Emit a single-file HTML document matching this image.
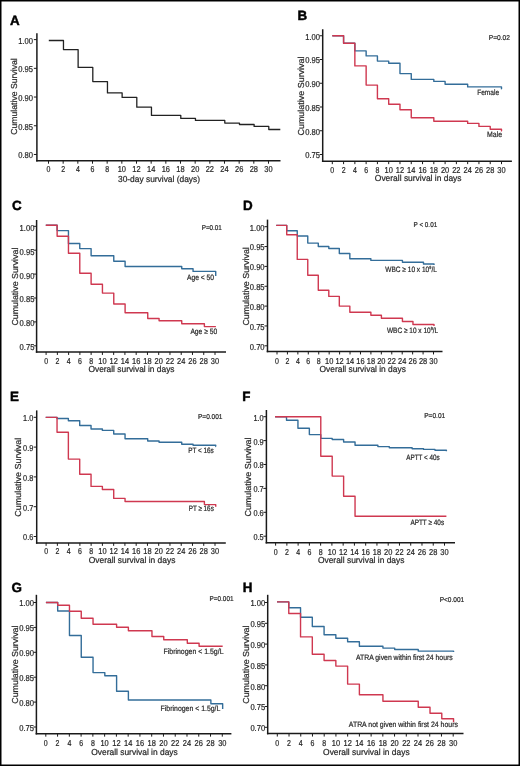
<!DOCTYPE html>
<html><head><meta charset="utf-8"><style>
html,body{margin:0;padding:0;background:#fff;}
svg{display:block;}
text{font-family:"Liberation Sans", sans-serif;stroke:#333;stroke-width:0.22px;}
</style></head><body>
<div style="will-change:transform;width:520px;height:766px"><svg width="520" height="766" viewBox="0 0 520 766" text-rendering="geometricPrecision">
<rect x="0" y="0" width="520" height="766" fill="#fff"/>
<text x="10" y="24.5" font-weight="bold" font-size="13.4" fill="#000" style="stroke:#000;stroke-width:0.45px">A</text>
<line x1="36.9" y1="33.3" x2="36.9" y2="161.5" stroke="#1a1a1a" stroke-width="1.5"/>
<line x1="36.15" y1="160.75" x2="280.5" y2="160.75" stroke="#1a1a1a" stroke-width="1.5"/>
<line x1="33.85" y1="39.6" x2="36.9" y2="39.6" stroke="#1a1a1a" stroke-width="1"/>
<text x="33" y="43.5" font-size="8.6" text-anchor="end" textLength="14.8" lengthAdjust="spacingAndGlyphs" fill="#222">1.00</text>
<line x1="33.85" y1="68.32" x2="36.9" y2="68.32" stroke="#1a1a1a" stroke-width="1"/>
<text x="33" y="72.22" font-size="8.6" text-anchor="end" textLength="14.8" lengthAdjust="spacingAndGlyphs" fill="#222">0.95</text>
<line x1="33.85" y1="97.04" x2="36.9" y2="97.04" stroke="#1a1a1a" stroke-width="1"/>
<text x="33" y="100.94" font-size="8.6" text-anchor="end" textLength="14.8" lengthAdjust="spacingAndGlyphs" fill="#222">0.90</text>
<line x1="33.85" y1="125.76" x2="36.9" y2="125.76" stroke="#1a1a1a" stroke-width="1"/>
<text x="33" y="129.66" font-size="8.6" text-anchor="end" textLength="14.8" lengthAdjust="spacingAndGlyphs" fill="#222">0.85</text>
<line x1="33.85" y1="154.48" x2="36.9" y2="154.48" stroke="#1a1a1a" stroke-width="1"/>
<text x="33" y="158.38" font-size="8.6" text-anchor="end" textLength="14.8" lengthAdjust="spacingAndGlyphs" fill="#222">0.80</text>
<line x1="48.5" y1="160.75" x2="48.5" y2="163.7" stroke="#1a1a1a" stroke-width="1"/>
<text x="48.5" y="172" font-size="8.6" text-anchor="middle" textLength="3.9" lengthAdjust="spacingAndGlyphs" fill="#222">0</text>
<line x1="63.17" y1="160.75" x2="63.17" y2="163.7" stroke="#1a1a1a" stroke-width="1"/>
<text x="63.17" y="172" font-size="8.6" text-anchor="middle" textLength="3.9" lengthAdjust="spacingAndGlyphs" fill="#222">2</text>
<line x1="77.83" y1="160.75" x2="77.83" y2="163.7" stroke="#1a1a1a" stroke-width="1"/>
<text x="77.83" y="172" font-size="8.6" text-anchor="middle" textLength="3.9" lengthAdjust="spacingAndGlyphs" fill="#222">4</text>
<line x1="92.5" y1="160.75" x2="92.5" y2="163.7" stroke="#1a1a1a" stroke-width="1"/>
<text x="92.5" y="172" font-size="8.6" text-anchor="middle" textLength="3.9" lengthAdjust="spacingAndGlyphs" fill="#222">6</text>
<line x1="107.16" y1="160.75" x2="107.16" y2="163.7" stroke="#1a1a1a" stroke-width="1"/>
<text x="107.16" y="172" font-size="8.6" text-anchor="middle" textLength="3.9" lengthAdjust="spacingAndGlyphs" fill="#222">8</text>
<line x1="121.83" y1="160.75" x2="121.83" y2="163.7" stroke="#1a1a1a" stroke-width="1"/>
<text x="121.83" y="172" font-size="8.6" text-anchor="middle" textLength="8.3" lengthAdjust="spacingAndGlyphs" fill="#222">10</text>
<line x1="136.5" y1="160.75" x2="136.5" y2="163.7" stroke="#1a1a1a" stroke-width="1"/>
<text x="136.5" y="172" font-size="8.6" text-anchor="middle" textLength="8.3" lengthAdjust="spacingAndGlyphs" fill="#222">12</text>
<line x1="151.16" y1="160.75" x2="151.16" y2="163.7" stroke="#1a1a1a" stroke-width="1"/>
<text x="151.16" y="172" font-size="8.6" text-anchor="middle" textLength="8.3" lengthAdjust="spacingAndGlyphs" fill="#222">14</text>
<line x1="165.83" y1="160.75" x2="165.83" y2="163.7" stroke="#1a1a1a" stroke-width="1"/>
<text x="165.83" y="172" font-size="8.6" text-anchor="middle" textLength="8.3" lengthAdjust="spacingAndGlyphs" fill="#222">16</text>
<line x1="180.49" y1="160.75" x2="180.49" y2="163.7" stroke="#1a1a1a" stroke-width="1"/>
<text x="180.49" y="172" font-size="8.6" text-anchor="middle" textLength="8.3" lengthAdjust="spacingAndGlyphs" fill="#222">18</text>
<line x1="195.16" y1="160.75" x2="195.16" y2="163.7" stroke="#1a1a1a" stroke-width="1"/>
<text x="195.16" y="172" font-size="8.6" text-anchor="middle" textLength="8.3" lengthAdjust="spacingAndGlyphs" fill="#222">20</text>
<line x1="209.83" y1="160.75" x2="209.83" y2="163.7" stroke="#1a1a1a" stroke-width="1"/>
<text x="209.83" y="172" font-size="8.6" text-anchor="middle" textLength="8.3" lengthAdjust="spacingAndGlyphs" fill="#222">22</text>
<line x1="224.49" y1="160.75" x2="224.49" y2="163.7" stroke="#1a1a1a" stroke-width="1"/>
<text x="224.49" y="172" font-size="8.6" text-anchor="middle" textLength="8.3" lengthAdjust="spacingAndGlyphs" fill="#222">24</text>
<line x1="239.16" y1="160.75" x2="239.16" y2="163.7" stroke="#1a1a1a" stroke-width="1"/>
<text x="239.16" y="172" font-size="8.6" text-anchor="middle" textLength="8.3" lengthAdjust="spacingAndGlyphs" fill="#222">26</text>
<line x1="253.82" y1="160.75" x2="253.82" y2="163.7" stroke="#1a1a1a" stroke-width="1"/>
<text x="253.82" y="172" font-size="8.6" text-anchor="middle" textLength="8.3" lengthAdjust="spacingAndGlyphs" fill="#222">28</text>
<line x1="268.49" y1="160.75" x2="268.49" y2="163.7" stroke="#1a1a1a" stroke-width="1"/>
<text x="268.49" y="172" font-size="8.6" text-anchor="middle" textLength="8.3" lengthAdjust="spacingAndGlyphs" fill="#222">30</text>
<text x="159" y="181.9" font-size="8.7" text-anchor="middle" textLength="82" lengthAdjust="spacingAndGlyphs" fill="#222">30-day survival (days)</text>
<text transform="translate(16.7 96.5) rotate(-90)" x="0" y="0" font-size="8.7" text-anchor="middle" textLength="76.6" lengthAdjust="spacingAndGlyphs" fill="#222">Cumulative Survival</text>
<path d="M48.8 40.5 L63.47 40.5 L63.47 49.6 L78.13 49.6 L78.13 67.4 L92.8 67.4 L92.8 81.6 L107.46 81.6 L107.46 92.9 L122.13 92.9 L122.13 97.4 L136.8 97.4 L136.8 107.2 L151.46 107.2 L151.46 115.4 L166.13 115.4 L166.13 115.4 L180.79 115.4 L180.79 118.4 L195.46 118.4 L195.46 120.4 L210.13 120.4 L210.13 120.4 L224.79 120.4 L224.79 123.1 L239.46 123.1 L239.46 124.5 L254.12 124.5 L254.12 126.4 L268.79 126.4 L268.79 129.5 L280.3 129.5" fill="none" stroke="#222" stroke-width="1.3" stroke-linejoin="round"/>
<text x="297.5" y="19.5" font-weight="bold" font-size="13.4" fill="#000" style="stroke:#000;stroke-width:0.45px">B</text>
<line x1="322.7" y1="29.25" x2="322.7" y2="161.95" stroke="#1a1a1a" stroke-width="1.5"/>
<line x1="321.95" y1="161.2" x2="511.9" y2="161.2" stroke="#1a1a1a" stroke-width="1.5"/>
<line x1="319.65" y1="35.75" x2="322.7" y2="35.75" stroke="#1a1a1a" stroke-width="1"/>
<text x="320" y="39.65" font-size="8.6" text-anchor="end" textLength="14.8" lengthAdjust="spacingAndGlyphs" fill="#222">1.00</text>
<line x1="319.65" y1="59.5" x2="322.7" y2="59.5" stroke="#1a1a1a" stroke-width="1"/>
<text x="320" y="63.4" font-size="8.6" text-anchor="end" textLength="14.8" lengthAdjust="spacingAndGlyphs" fill="#222">0.95</text>
<line x1="319.65" y1="83.25" x2="322.7" y2="83.25" stroke="#1a1a1a" stroke-width="1"/>
<text x="320" y="87.15" font-size="8.6" text-anchor="end" textLength="14.8" lengthAdjust="spacingAndGlyphs" fill="#222">0.90</text>
<line x1="319.65" y1="107" x2="322.7" y2="107" stroke="#1a1a1a" stroke-width="1"/>
<text x="320" y="110.9" font-size="8.6" text-anchor="end" textLength="14.8" lengthAdjust="spacingAndGlyphs" fill="#222">0.85</text>
<line x1="319.65" y1="130.75" x2="322.7" y2="130.75" stroke="#1a1a1a" stroke-width="1"/>
<text x="320" y="134.65" font-size="8.6" text-anchor="end" textLength="14.8" lengthAdjust="spacingAndGlyphs" fill="#222">0.80</text>
<line x1="319.65" y1="154.5" x2="322.7" y2="154.5" stroke="#1a1a1a" stroke-width="1"/>
<text x="320" y="158.4" font-size="8.6" text-anchor="end" textLength="14.8" lengthAdjust="spacingAndGlyphs" fill="#222">0.75</text>
<line x1="332.3" y1="161.2" x2="332.3" y2="164.15" stroke="#1a1a1a" stroke-width="1"/>
<text x="332.3" y="172.9" font-size="8.6" text-anchor="middle" textLength="3.9" lengthAdjust="spacingAndGlyphs" fill="#222">0</text>
<line x1="343.58" y1="161.2" x2="343.58" y2="164.15" stroke="#1a1a1a" stroke-width="1"/>
<text x="343.58" y="172.9" font-size="8.6" text-anchor="middle" textLength="3.9" lengthAdjust="spacingAndGlyphs" fill="#222">2</text>
<line x1="354.86" y1="161.2" x2="354.86" y2="164.15" stroke="#1a1a1a" stroke-width="1"/>
<text x="354.86" y="172.9" font-size="8.6" text-anchor="middle" textLength="3.9" lengthAdjust="spacingAndGlyphs" fill="#222">4</text>
<line x1="366.14" y1="161.2" x2="366.14" y2="164.15" stroke="#1a1a1a" stroke-width="1"/>
<text x="366.14" y="172.9" font-size="8.6" text-anchor="middle" textLength="3.9" lengthAdjust="spacingAndGlyphs" fill="#222">6</text>
<line x1="377.42" y1="161.2" x2="377.42" y2="164.15" stroke="#1a1a1a" stroke-width="1"/>
<text x="377.42" y="172.9" font-size="8.6" text-anchor="middle" textLength="3.9" lengthAdjust="spacingAndGlyphs" fill="#222">8</text>
<line x1="388.7" y1="161.2" x2="388.7" y2="164.15" stroke="#1a1a1a" stroke-width="1"/>
<text x="388.7" y="172.9" font-size="8.6" text-anchor="middle" textLength="8.3" lengthAdjust="spacingAndGlyphs" fill="#222">10</text>
<line x1="399.98" y1="161.2" x2="399.98" y2="164.15" stroke="#1a1a1a" stroke-width="1"/>
<text x="399.98" y="172.9" font-size="8.6" text-anchor="middle" textLength="8.3" lengthAdjust="spacingAndGlyphs" fill="#222">12</text>
<line x1="411.26" y1="161.2" x2="411.26" y2="164.15" stroke="#1a1a1a" stroke-width="1"/>
<text x="411.26" y="172.9" font-size="8.6" text-anchor="middle" textLength="8.3" lengthAdjust="spacingAndGlyphs" fill="#222">14</text>
<line x1="422.54" y1="161.2" x2="422.54" y2="164.15" stroke="#1a1a1a" stroke-width="1"/>
<text x="422.54" y="172.9" font-size="8.6" text-anchor="middle" textLength="8.3" lengthAdjust="spacingAndGlyphs" fill="#222">16</text>
<line x1="433.82" y1="161.2" x2="433.82" y2="164.15" stroke="#1a1a1a" stroke-width="1"/>
<text x="433.82" y="172.9" font-size="8.6" text-anchor="middle" textLength="8.3" lengthAdjust="spacingAndGlyphs" fill="#222">18</text>
<line x1="445.1" y1="161.2" x2="445.1" y2="164.15" stroke="#1a1a1a" stroke-width="1"/>
<text x="445.1" y="172.9" font-size="8.6" text-anchor="middle" textLength="8.3" lengthAdjust="spacingAndGlyphs" fill="#222">20</text>
<line x1="456.38" y1="161.2" x2="456.38" y2="164.15" stroke="#1a1a1a" stroke-width="1"/>
<text x="456.38" y="172.9" font-size="8.6" text-anchor="middle" textLength="8.3" lengthAdjust="spacingAndGlyphs" fill="#222">22</text>
<line x1="467.66" y1="161.2" x2="467.66" y2="164.15" stroke="#1a1a1a" stroke-width="1"/>
<text x="467.66" y="172.9" font-size="8.6" text-anchor="middle" textLength="8.3" lengthAdjust="spacingAndGlyphs" fill="#222">24</text>
<line x1="478.94" y1="161.2" x2="478.94" y2="164.15" stroke="#1a1a1a" stroke-width="1"/>
<text x="478.94" y="172.9" font-size="8.6" text-anchor="middle" textLength="8.3" lengthAdjust="spacingAndGlyphs" fill="#222">26</text>
<line x1="490.22" y1="161.2" x2="490.22" y2="164.15" stroke="#1a1a1a" stroke-width="1"/>
<text x="490.22" y="172.9" font-size="8.6" text-anchor="middle" textLength="8.3" lengthAdjust="spacingAndGlyphs" fill="#222">28</text>
<line x1="501.5" y1="161.2" x2="501.5" y2="164.15" stroke="#1a1a1a" stroke-width="1"/>
<text x="501.5" y="172.9" font-size="8.6" text-anchor="middle" textLength="8.3" lengthAdjust="spacingAndGlyphs" fill="#222">30</text>
<text x="418.2" y="181.4" font-size="8.7" text-anchor="middle" textLength="86.7" lengthAdjust="spacingAndGlyphs" fill="#222">Overall survival in days</text>
<text transform="translate(304.3 96) rotate(-90)" x="0" y="0" font-size="8.7" text-anchor="middle" textLength="79" lengthAdjust="spacingAndGlyphs" fill="#222">Cumulative Survival</text>
<path d="M332.3 35.7 L343.58 35.7 L343.58 43.2 L354.86 43.2 L354.86 50.9 L366.14 50.9 L366.14 55.9 L377.42 55.9 L377.42 61.1 L388.7 61.1 L388.7 63.2 L399.98 63.2 L399.98 73.6 L411.26 73.6 L411.26 79.4 L422.54 79.4 L422.54 79.4 L433.82 79.4 L433.82 81.4 L445.1 81.4 L445.1 84.3 L456.38 84.3 L456.38 84.3 L467.66 84.3 L467.66 86.9 L478.94 86.9 L478.94 86.9 L490.22 86.9 L490.22 86.9 L501.5 86.9 L501.5 88.9 L501.7 88.9" fill="none" stroke="#336d99" stroke-width="1.4" stroke-linejoin="round"/>
<path d="M332.3 35.7 L343.58 35.7 L343.58 43.2 L354.86 43.2 L354.86 65.9 L366.14 65.9 L366.14 85.1 L377.42 85.1 L377.42 98.8 L388.7 98.8 L388.7 104.3 L399.98 104.3 L399.98 109.8 L411.26 109.8 L411.26 117.8 L422.54 117.8 L422.54 117.8 L433.82 117.8 L433.82 121.3 L445.1 121.3 L445.1 121.3 L456.38 121.3 L456.38 121.3 L467.66 121.3 L467.66 123.4 L478.94 123.4 L478.94 126.4 L490.22 126.4 L490.22 129.3 L501.5 129.3 L501.5 131.1 L501.7 131.1" fill="none" stroke="#cf3850" stroke-width="1.4" stroke-linejoin="round"/>
<text x="477.2" y="94.7" font-size="7.8" textLength="21.9" lengthAdjust="spacingAndGlyphs" fill="#222">Female</text>
<text x="487.1" y="136.5" font-size="7.8" textLength="15" lengthAdjust="spacingAndGlyphs" fill="#222">Male</text>
<text x="488.8" y="39.9" font-size="7.0" textLength="21.2" lengthAdjust="spacingAndGlyphs" fill="#222">P=0.02</text>
<text x="11.9" y="210" font-weight="bold" font-size="13.4" fill="#000" style="stroke:#000;stroke-width:0.45px">C</text>
<line x1="36.6" y1="220" x2="36.6" y2="352.75" stroke="#1a1a1a" stroke-width="1.5"/>
<line x1="35.85" y1="352" x2="226" y2="352" stroke="#1a1a1a" stroke-width="1.5"/>
<line x1="33.55" y1="226.3" x2="36.6" y2="226.3" stroke="#1a1a1a" stroke-width="1"/>
<text x="34.4" y="230.7" font-size="8.6" text-anchor="end" textLength="14.8" lengthAdjust="spacingAndGlyphs" fill="#222">1.00</text>
<line x1="33.55" y1="250.2" x2="36.6" y2="250.2" stroke="#1a1a1a" stroke-width="1"/>
<text x="34.4" y="254.6" font-size="8.6" text-anchor="end" textLength="14.8" lengthAdjust="spacingAndGlyphs" fill="#222">0.95</text>
<line x1="33.55" y1="274.1" x2="36.6" y2="274.1" stroke="#1a1a1a" stroke-width="1"/>
<text x="34.4" y="278.5" font-size="8.6" text-anchor="end" textLength="14.8" lengthAdjust="spacingAndGlyphs" fill="#222">0.90</text>
<line x1="33.55" y1="298" x2="36.6" y2="298" stroke="#1a1a1a" stroke-width="1"/>
<text x="34.4" y="302.4" font-size="8.6" text-anchor="end" textLength="14.8" lengthAdjust="spacingAndGlyphs" fill="#222">0.85</text>
<line x1="33.55" y1="321.9" x2="36.6" y2="321.9" stroke="#1a1a1a" stroke-width="1"/>
<text x="34.4" y="326.3" font-size="8.6" text-anchor="end" textLength="14.8" lengthAdjust="spacingAndGlyphs" fill="#222">0.80</text>
<line x1="33.55" y1="345.8" x2="36.6" y2="345.8" stroke="#1a1a1a" stroke-width="1"/>
<text x="34.4" y="350.2" font-size="8.6" text-anchor="end" textLength="14.8" lengthAdjust="spacingAndGlyphs" fill="#222">0.75</text>
<line x1="46.1" y1="352" x2="46.1" y2="354.95" stroke="#1a1a1a" stroke-width="1"/>
<text x="46.1" y="364" font-size="8.6" text-anchor="middle" textLength="3.9" lengthAdjust="spacingAndGlyphs" fill="#222">0</text>
<line x1="57.36" y1="352" x2="57.36" y2="354.95" stroke="#1a1a1a" stroke-width="1"/>
<text x="57.36" y="364" font-size="8.6" text-anchor="middle" textLength="3.9" lengthAdjust="spacingAndGlyphs" fill="#222">2</text>
<line x1="68.62" y1="352" x2="68.62" y2="354.95" stroke="#1a1a1a" stroke-width="1"/>
<text x="68.62" y="364" font-size="8.6" text-anchor="middle" textLength="3.9" lengthAdjust="spacingAndGlyphs" fill="#222">4</text>
<line x1="79.88" y1="352" x2="79.88" y2="354.95" stroke="#1a1a1a" stroke-width="1"/>
<text x="79.88" y="364" font-size="8.6" text-anchor="middle" textLength="3.9" lengthAdjust="spacingAndGlyphs" fill="#222">6</text>
<line x1="91.14" y1="352" x2="91.14" y2="354.95" stroke="#1a1a1a" stroke-width="1"/>
<text x="91.14" y="364" font-size="8.6" text-anchor="middle" textLength="3.9" lengthAdjust="spacingAndGlyphs" fill="#222">8</text>
<line x1="102.4" y1="352" x2="102.4" y2="354.95" stroke="#1a1a1a" stroke-width="1"/>
<text x="102.4" y="364" font-size="8.6" text-anchor="middle" textLength="8.3" lengthAdjust="spacingAndGlyphs" fill="#222">10</text>
<line x1="113.66" y1="352" x2="113.66" y2="354.95" stroke="#1a1a1a" stroke-width="1"/>
<text x="113.66" y="364" font-size="8.6" text-anchor="middle" textLength="8.3" lengthAdjust="spacingAndGlyphs" fill="#222">12</text>
<line x1="124.92" y1="352" x2="124.92" y2="354.95" stroke="#1a1a1a" stroke-width="1"/>
<text x="124.92" y="364" font-size="8.6" text-anchor="middle" textLength="8.3" lengthAdjust="spacingAndGlyphs" fill="#222">14</text>
<line x1="136.18" y1="352" x2="136.18" y2="354.95" stroke="#1a1a1a" stroke-width="1"/>
<text x="136.18" y="364" font-size="8.6" text-anchor="middle" textLength="8.3" lengthAdjust="spacingAndGlyphs" fill="#222">16</text>
<line x1="147.44" y1="352" x2="147.44" y2="354.95" stroke="#1a1a1a" stroke-width="1"/>
<text x="147.44" y="364" font-size="8.6" text-anchor="middle" textLength="8.3" lengthAdjust="spacingAndGlyphs" fill="#222">18</text>
<line x1="158.7" y1="352" x2="158.7" y2="354.95" stroke="#1a1a1a" stroke-width="1"/>
<text x="158.7" y="364" font-size="8.6" text-anchor="middle" textLength="8.3" lengthAdjust="spacingAndGlyphs" fill="#222">20</text>
<line x1="169.96" y1="352" x2="169.96" y2="354.95" stroke="#1a1a1a" stroke-width="1"/>
<text x="169.96" y="364" font-size="8.6" text-anchor="middle" textLength="8.3" lengthAdjust="spacingAndGlyphs" fill="#222">22</text>
<line x1="181.22" y1="352" x2="181.22" y2="354.95" stroke="#1a1a1a" stroke-width="1"/>
<text x="181.22" y="364" font-size="8.6" text-anchor="middle" textLength="8.3" lengthAdjust="spacingAndGlyphs" fill="#222">24</text>
<line x1="192.48" y1="352" x2="192.48" y2="354.95" stroke="#1a1a1a" stroke-width="1"/>
<text x="192.48" y="364" font-size="8.6" text-anchor="middle" textLength="8.3" lengthAdjust="spacingAndGlyphs" fill="#222">26</text>
<line x1="203.74" y1="352" x2="203.74" y2="354.95" stroke="#1a1a1a" stroke-width="1"/>
<text x="203.74" y="364" font-size="8.6" text-anchor="middle" textLength="8.3" lengthAdjust="spacingAndGlyphs" fill="#222">28</text>
<line x1="215" y1="352" x2="215" y2="354.95" stroke="#1a1a1a" stroke-width="1"/>
<text x="215" y="364" font-size="8.6" text-anchor="middle" textLength="8.3" lengthAdjust="spacingAndGlyphs" fill="#222">30</text>
<text x="131.5" y="372.1" font-size="8.7" text-anchor="middle" textLength="86.1" lengthAdjust="spacingAndGlyphs" fill="#222">Overall survival in days</text>
<text transform="translate(18 286.6) rotate(-90)" x="0" y="0" font-size="8.7" text-anchor="middle" textLength="77.9" lengthAdjust="spacingAndGlyphs" fill="#222">Cumulative Survival</text>
<path d="M45.8 225.2 L57.13 225.2 L57.13 230.6 L68.46 230.6 L68.46 243.5 L79.78 243.5 L79.78 248.6 L91.11 248.6 L91.11 255.8 L102.44 255.8 L102.44 255.8 L113.77 255.8 L113.77 261.2 L125.1 261.2 L125.1 266.5 L136.42 266.5 L136.42 266.5 L147.75 266.5 L147.75 266.5 L159.08 266.5 L159.08 266.5 L170.41 266.5 L170.41 266.5 L181.74 266.5 L181.74 268.7 L193.06 268.7 L193.06 271.4 L204.39 271.4 L204.39 271.4 L215.72 271.4 L215.72 275.9 L215.72 275.9" fill="none" stroke="#336d99" stroke-width="1.4" stroke-linejoin="round"/>
<path d="M45.8 225.2 L57.13 225.2 L57.13 236.3 L68.46 236.3 L68.46 253.3 L79.78 253.3 L79.78 273.3 L91.11 273.3 L91.11 284.2 L102.44 284.2 L102.44 293.1 L113.77 293.1 L113.77 304 L125.1 304 L125.1 312.7 L136.42 312.7 L136.42 312.7 L147.75 312.7 L147.75 318.5 L159.08 318.5 L159.08 320.8 L170.41 320.8 L170.41 320.8 L181.74 320.8 L181.74 323.7 L193.06 323.7 L193.06 323.7 L204.39 323.7 L204.39 326.6 L215.72 326.6 L215.72 326.6 L215.9 326.6" fill="none" stroke="#cf3850" stroke-width="1.4" stroke-linejoin="round"/>
<text x="201.7" y="229.7" font-size="7.0" textLength="20.2" lengthAdjust="spacingAndGlyphs" fill="#222">P=0.01</text>
<text x="187" y="280" font-size="7.8" textLength="27.1" lengthAdjust="spacingAndGlyphs" fill="#222">Age &lt; 50</text>
<text x="190.4" y="334.4" font-size="7.8" textLength="26.8" lengthAdjust="spacingAndGlyphs" fill="#222">Age ≥ 50</text>
<text x="243.1" y="210" font-weight="bold" font-size="13.4" fill="#000" style="stroke:#000;stroke-width:0.45px">D</text>
<line x1="267.5" y1="219.6" x2="267.5" y2="352.25" stroke="#1a1a1a" stroke-width="1.5"/>
<line x1="266.75" y1="351.5" x2="442.5" y2="351.5" stroke="#1a1a1a" stroke-width="1.5"/>
<line x1="264.45" y1="226.7" x2="267.5" y2="226.7" stroke="#1a1a1a" stroke-width="1"/>
<text x="264.6" y="230.6" font-size="8.6" text-anchor="end" textLength="14.8" lengthAdjust="spacingAndGlyphs" fill="#222">1.00</text>
<line x1="264.45" y1="246.55" x2="267.5" y2="246.55" stroke="#1a1a1a" stroke-width="1"/>
<text x="264.6" y="250.45" font-size="8.6" text-anchor="end" textLength="14.8" lengthAdjust="spacingAndGlyphs" fill="#222">0.95</text>
<line x1="264.45" y1="266.4" x2="267.5" y2="266.4" stroke="#1a1a1a" stroke-width="1"/>
<text x="264.6" y="270.3" font-size="8.6" text-anchor="end" textLength="14.8" lengthAdjust="spacingAndGlyphs" fill="#222">0.90</text>
<line x1="264.45" y1="286.25" x2="267.5" y2="286.25" stroke="#1a1a1a" stroke-width="1"/>
<text x="264.6" y="290.15" font-size="8.6" text-anchor="end" textLength="14.8" lengthAdjust="spacingAndGlyphs" fill="#222">0.85</text>
<line x1="264.45" y1="306.1" x2="267.5" y2="306.1" stroke="#1a1a1a" stroke-width="1"/>
<text x="264.6" y="310" font-size="8.6" text-anchor="end" textLength="14.8" lengthAdjust="spacingAndGlyphs" fill="#222">0.80</text>
<line x1="264.45" y1="325.95" x2="267.5" y2="325.95" stroke="#1a1a1a" stroke-width="1"/>
<text x="264.6" y="329.85" font-size="8.6" text-anchor="end" textLength="14.8" lengthAdjust="spacingAndGlyphs" fill="#222">0.75</text>
<line x1="264.45" y1="345.8" x2="267.5" y2="345.8" stroke="#1a1a1a" stroke-width="1"/>
<text x="264.6" y="349.7" font-size="8.6" text-anchor="end" textLength="14.8" lengthAdjust="spacingAndGlyphs" fill="#222">0.70</text>
<line x1="277" y1="351.5" x2="277" y2="354.45" stroke="#1a1a1a" stroke-width="1"/>
<text x="277" y="363.5" font-size="8.6" text-anchor="middle" textLength="3.9" lengthAdjust="spacingAndGlyphs" fill="#222">0</text>
<line x1="287.43" y1="351.5" x2="287.43" y2="354.45" stroke="#1a1a1a" stroke-width="1"/>
<text x="287.43" y="363.5" font-size="8.6" text-anchor="middle" textLength="3.9" lengthAdjust="spacingAndGlyphs" fill="#222">2</text>
<line x1="297.87" y1="351.5" x2="297.87" y2="354.45" stroke="#1a1a1a" stroke-width="1"/>
<text x="297.87" y="363.5" font-size="8.6" text-anchor="middle" textLength="3.9" lengthAdjust="spacingAndGlyphs" fill="#222">4</text>
<line x1="308.3" y1="351.5" x2="308.3" y2="354.45" stroke="#1a1a1a" stroke-width="1"/>
<text x="308.3" y="363.5" font-size="8.6" text-anchor="middle" textLength="3.9" lengthAdjust="spacingAndGlyphs" fill="#222">6</text>
<line x1="318.74" y1="351.5" x2="318.74" y2="354.45" stroke="#1a1a1a" stroke-width="1"/>
<text x="318.74" y="363.5" font-size="8.6" text-anchor="middle" textLength="3.9" lengthAdjust="spacingAndGlyphs" fill="#222">8</text>
<line x1="329.17" y1="351.5" x2="329.17" y2="354.45" stroke="#1a1a1a" stroke-width="1"/>
<text x="329.17" y="363.5" font-size="8.6" text-anchor="middle" textLength="8.3" lengthAdjust="spacingAndGlyphs" fill="#222">10</text>
<line x1="339.6" y1="351.5" x2="339.6" y2="354.45" stroke="#1a1a1a" stroke-width="1"/>
<text x="339.6" y="363.5" font-size="8.6" text-anchor="middle" textLength="8.3" lengthAdjust="spacingAndGlyphs" fill="#222">12</text>
<line x1="350.04" y1="351.5" x2="350.04" y2="354.45" stroke="#1a1a1a" stroke-width="1"/>
<text x="350.04" y="363.5" font-size="8.6" text-anchor="middle" textLength="8.3" lengthAdjust="spacingAndGlyphs" fill="#222">14</text>
<line x1="360.47" y1="351.5" x2="360.47" y2="354.45" stroke="#1a1a1a" stroke-width="1"/>
<text x="360.47" y="363.5" font-size="8.6" text-anchor="middle" textLength="8.3" lengthAdjust="spacingAndGlyphs" fill="#222">16</text>
<line x1="370.91" y1="351.5" x2="370.91" y2="354.45" stroke="#1a1a1a" stroke-width="1"/>
<text x="370.91" y="363.5" font-size="8.6" text-anchor="middle" textLength="8.3" lengthAdjust="spacingAndGlyphs" fill="#222">18</text>
<line x1="381.34" y1="351.5" x2="381.34" y2="354.45" stroke="#1a1a1a" stroke-width="1"/>
<text x="381.34" y="363.5" font-size="8.6" text-anchor="middle" textLength="8.3" lengthAdjust="spacingAndGlyphs" fill="#222">20</text>
<line x1="391.77" y1="351.5" x2="391.77" y2="354.45" stroke="#1a1a1a" stroke-width="1"/>
<text x="391.77" y="363.5" font-size="8.6" text-anchor="middle" textLength="8.3" lengthAdjust="spacingAndGlyphs" fill="#222">22</text>
<line x1="402.21" y1="351.5" x2="402.21" y2="354.45" stroke="#1a1a1a" stroke-width="1"/>
<text x="402.21" y="363.5" font-size="8.6" text-anchor="middle" textLength="8.3" lengthAdjust="spacingAndGlyphs" fill="#222">24</text>
<line x1="412.64" y1="351.5" x2="412.64" y2="354.45" stroke="#1a1a1a" stroke-width="1"/>
<text x="412.64" y="363.5" font-size="8.6" text-anchor="middle" textLength="8.3" lengthAdjust="spacingAndGlyphs" fill="#222">26</text>
<line x1="423.08" y1="351.5" x2="423.08" y2="354.45" stroke="#1a1a1a" stroke-width="1"/>
<text x="423.08" y="363.5" font-size="8.6" text-anchor="middle" textLength="8.3" lengthAdjust="spacingAndGlyphs" fill="#222">28</text>
<line x1="433.51" y1="351.5" x2="433.51" y2="354.45" stroke="#1a1a1a" stroke-width="1"/>
<text x="433.51" y="363.5" font-size="8.6" text-anchor="middle" textLength="8.3" lengthAdjust="spacingAndGlyphs" fill="#222">30</text>
<text x="362.7" y="371.5" font-size="8.7" text-anchor="middle" textLength="86.3" lengthAdjust="spacingAndGlyphs" fill="#222">Overall survival in days</text>
<text transform="translate(249 286.4) rotate(-90)" x="0" y="0" font-size="8.7" text-anchor="middle" textLength="78.4" lengthAdjust="spacingAndGlyphs" fill="#222">Cumulative Survival</text>
<path d="M276.2 225.4 L286.72 225.4 L286.72 230.8 L297.24 230.8 L297.24 236 L307.76 236 L307.76 243.1 L318.28 243.1 L318.28 246.5 L328.8 246.5 L328.8 248.5 L339.32 248.5 L339.32 253.5 L349.84 253.5 L349.84 258.8 L360.36 258.8 L360.36 258.8 L370.88 258.8 L370.88 260.4 L381.4 260.4 L381.4 260.4 L391.92 260.4 L391.92 260.4 L402.44 260.4 L402.44 262.2 L412.96 262.2 L412.96 262.2 L423.48 262.2 L423.48 264 L434 264 L434 265 L434 265" fill="none" stroke="#336d99" stroke-width="1.4" stroke-linejoin="round"/>
<path d="M276.2 225.4 L286.72 225.4 L286.72 234.8 L297.24 234.8 L297.24 259.4 L307.76 259.4 L307.76 275.2 L318.28 275.2 L318.28 290.3 L328.8 290.3 L328.8 296.4 L339.32 296.4 L339.32 306.1 L349.84 306.1 L349.84 312.3 L360.36 312.3 L360.36 312.3 L370.88 312.3 L370.88 315.3 L381.4 315.3 L381.4 318.3 L391.92 318.3 L391.92 318.3 L402.44 318.3 L402.44 321.5 L412.96 321.5 L412.96 324.5 L423.48 324.5 L423.48 324.5 L434 324.5 L434 326 L434 326" fill="none" stroke="#cf3850" stroke-width="1.4" stroke-linejoin="round"/>
<text x="413.5" y="226.5" font-size="7.0" textLength="23.7" lengthAdjust="spacingAndGlyphs" fill="#222">P &lt; 0.01</text>
<text x="385.25" y="271.6" font-size="7.8" textLength="51.6" lengthAdjust="spacingAndGlyphs" fill="#222">WBC ≥ 10 x 10<tspan font-size="4.5" dy="-3">9</tspan><tspan dy="3">/L</tspan></text>
<text x="386.9" y="332.6" font-size="7.8" textLength="51.3" lengthAdjust="spacingAndGlyphs" fill="#222">WBC ≥ 10 x 10<tspan font-size="4.5" dy="-3">9</tspan><tspan dy="3">/L</tspan></text>
<text x="10" y="401" font-weight="bold" font-size="13.4" fill="#000" style="stroke:#000;stroke-width:0.45px">E</text>
<line x1="36.7" y1="410.4" x2="36.7" y2="543.65" stroke="#1a1a1a" stroke-width="1.5"/>
<line x1="35.95" y1="542.9" x2="225.8" y2="542.9" stroke="#1a1a1a" stroke-width="1.5"/>
<line x1="33.65" y1="417.3" x2="36.7" y2="417.3" stroke="#1a1a1a" stroke-width="1"/>
<text x="33.3" y="421.2" font-size="8.6" text-anchor="end" textLength="10.2" lengthAdjust="spacingAndGlyphs" fill="#222">1.0</text>
<line x1="33.65" y1="447.1" x2="36.7" y2="447.1" stroke="#1a1a1a" stroke-width="1"/>
<text x="33.3" y="451" font-size="8.6" text-anchor="end" textLength="10.2" lengthAdjust="spacingAndGlyphs" fill="#222">0.9</text>
<line x1="33.65" y1="476.9" x2="36.7" y2="476.9" stroke="#1a1a1a" stroke-width="1"/>
<text x="33.3" y="480.8" font-size="8.6" text-anchor="end" textLength="10.2" lengthAdjust="spacingAndGlyphs" fill="#222">0.8</text>
<line x1="33.65" y1="506.7" x2="36.7" y2="506.7" stroke="#1a1a1a" stroke-width="1"/>
<text x="33.3" y="510.6" font-size="8.6" text-anchor="end" textLength="10.2" lengthAdjust="spacingAndGlyphs" fill="#222">0.7</text>
<line x1="33.65" y1="536.5" x2="36.7" y2="536.5" stroke="#1a1a1a" stroke-width="1"/>
<text x="33.3" y="540.4" font-size="8.6" text-anchor="end" textLength="10.2" lengthAdjust="spacingAndGlyphs" fill="#222">0.6</text>
<line x1="46.1" y1="542.9" x2="46.1" y2="545.85" stroke="#1a1a1a" stroke-width="1"/>
<text x="46.1" y="554.4" font-size="8.6" text-anchor="middle" textLength="3.9" lengthAdjust="spacingAndGlyphs" fill="#222">0</text>
<line x1="57.36" y1="542.9" x2="57.36" y2="545.85" stroke="#1a1a1a" stroke-width="1"/>
<text x="57.36" y="554.4" font-size="8.6" text-anchor="middle" textLength="3.9" lengthAdjust="spacingAndGlyphs" fill="#222">2</text>
<line x1="68.62" y1="542.9" x2="68.62" y2="545.85" stroke="#1a1a1a" stroke-width="1"/>
<text x="68.62" y="554.4" font-size="8.6" text-anchor="middle" textLength="3.9" lengthAdjust="spacingAndGlyphs" fill="#222">4</text>
<line x1="79.88" y1="542.9" x2="79.88" y2="545.85" stroke="#1a1a1a" stroke-width="1"/>
<text x="79.88" y="554.4" font-size="8.6" text-anchor="middle" textLength="3.9" lengthAdjust="spacingAndGlyphs" fill="#222">6</text>
<line x1="91.14" y1="542.9" x2="91.14" y2="545.85" stroke="#1a1a1a" stroke-width="1"/>
<text x="91.14" y="554.4" font-size="8.6" text-anchor="middle" textLength="3.9" lengthAdjust="spacingAndGlyphs" fill="#222">8</text>
<line x1="102.4" y1="542.9" x2="102.4" y2="545.85" stroke="#1a1a1a" stroke-width="1"/>
<text x="102.4" y="554.4" font-size="8.6" text-anchor="middle" textLength="8.3" lengthAdjust="spacingAndGlyphs" fill="#222">10</text>
<line x1="113.66" y1="542.9" x2="113.66" y2="545.85" stroke="#1a1a1a" stroke-width="1"/>
<text x="113.66" y="554.4" font-size="8.6" text-anchor="middle" textLength="8.3" lengthAdjust="spacingAndGlyphs" fill="#222">12</text>
<line x1="124.92" y1="542.9" x2="124.92" y2="545.85" stroke="#1a1a1a" stroke-width="1"/>
<text x="124.92" y="554.4" font-size="8.6" text-anchor="middle" textLength="8.3" lengthAdjust="spacingAndGlyphs" fill="#222">14</text>
<line x1="136.18" y1="542.9" x2="136.18" y2="545.85" stroke="#1a1a1a" stroke-width="1"/>
<text x="136.18" y="554.4" font-size="8.6" text-anchor="middle" textLength="8.3" lengthAdjust="spacingAndGlyphs" fill="#222">16</text>
<line x1="147.44" y1="542.9" x2="147.44" y2="545.85" stroke="#1a1a1a" stroke-width="1"/>
<text x="147.44" y="554.4" font-size="8.6" text-anchor="middle" textLength="8.3" lengthAdjust="spacingAndGlyphs" fill="#222">18</text>
<line x1="158.7" y1="542.9" x2="158.7" y2="545.85" stroke="#1a1a1a" stroke-width="1"/>
<text x="158.7" y="554.4" font-size="8.6" text-anchor="middle" textLength="8.3" lengthAdjust="spacingAndGlyphs" fill="#222">20</text>
<line x1="169.96" y1="542.9" x2="169.96" y2="545.85" stroke="#1a1a1a" stroke-width="1"/>
<text x="169.96" y="554.4" font-size="8.6" text-anchor="middle" textLength="8.3" lengthAdjust="spacingAndGlyphs" fill="#222">22</text>
<line x1="181.22" y1="542.9" x2="181.22" y2="545.85" stroke="#1a1a1a" stroke-width="1"/>
<text x="181.22" y="554.4" font-size="8.6" text-anchor="middle" textLength="8.3" lengthAdjust="spacingAndGlyphs" fill="#222">24</text>
<line x1="192.48" y1="542.9" x2="192.48" y2="545.85" stroke="#1a1a1a" stroke-width="1"/>
<text x="192.48" y="554.4" font-size="8.6" text-anchor="middle" textLength="8.3" lengthAdjust="spacingAndGlyphs" fill="#222">26</text>
<line x1="203.74" y1="542.9" x2="203.74" y2="545.85" stroke="#1a1a1a" stroke-width="1"/>
<text x="203.74" y="554.4" font-size="8.6" text-anchor="middle" textLength="8.3" lengthAdjust="spacingAndGlyphs" fill="#222">28</text>
<line x1="215" y1="542.9" x2="215" y2="545.85" stroke="#1a1a1a" stroke-width="1"/>
<text x="215" y="554.4" font-size="8.6" text-anchor="middle" textLength="8.3" lengthAdjust="spacingAndGlyphs" fill="#222">30</text>
<text x="132.1" y="562.7" font-size="8.7" text-anchor="middle" textLength="86.6" lengthAdjust="spacingAndGlyphs" fill="#222">Overall survival in days</text>
<text transform="translate(21.2 477.2) rotate(-90)" x="0" y="0" font-size="8.7" text-anchor="middle" textLength="78.9" lengthAdjust="spacingAndGlyphs" fill="#222">Cumulative Survival</text>
<path d="M45.7 417.4 L57.04 417.4 L57.04 418.5 L68.37 418.5 L68.37 420.8 L79.71 420.8 L79.71 425.5 L91.04 425.5 L91.04 429 L102.38 429 L102.38 430.4 L113.72 430.4 L113.72 434 L125.05 434 L125.05 438.75 L136.39 438.75 L136.39 438.75 L147.72 438.75 L147.72 441 L159.06 441 L159.06 442.2 L170.4 442.2 L170.4 442.2 L181.73 442.2 L181.73 444.3 L193.07 444.3 L193.07 445.2 L204.4 445.2 L204.4 445.2 L215.74 445.2 L215.74 446.5 L215.8 446.5" fill="none" stroke="#336d99" stroke-width="1.4" stroke-linejoin="round"/>
<path d="M45.7 417.4 L57.04 417.4 L57.04 432.2 L68.37 432.2 L68.37 459.1 L79.71 459.1 L79.71 474.2 L91.04 474.2 L91.04 486.4 L102.38 486.4 L102.38 489.5 L113.72 489.5 L113.72 498.4 L125.05 498.4 L125.05 501.5 L136.39 501.5 L136.39 501.5 L147.72 501.5 L147.72 501.5 L159.06 501.5 L159.06 501.5 L170.4 501.5 L170.4 501.5 L181.73 501.5 L181.73 501.5 L193.07 501.5 L193.07 501.5 L204.4 501.5 L204.4 504.6 L215.74 504.6 L215.74 506.8 L215.74 506.8" fill="none" stroke="#cf3850" stroke-width="1.4" stroke-linejoin="round"/>
<text x="198" y="418.75" font-size="7.0" textLength="24.5" lengthAdjust="spacingAndGlyphs" fill="#222">P=0.001</text>
<text x="188.2" y="452.7" font-size="7.8" textLength="25.6" lengthAdjust="spacingAndGlyphs" fill="#222">PT &lt; 16s</text>
<text x="188.7" y="511" font-size="7.8" textLength="25.1" lengthAdjust="spacingAndGlyphs" fill="#222">PT ≥ 16s</text>
<text x="242.3" y="401" font-weight="bold" font-size="13.4" fill="#000" style="stroke:#000;stroke-width:0.45px">F</text>
<line x1="266.4" y1="410" x2="266.4" y2="543.45" stroke="#1a1a1a" stroke-width="1.5"/>
<line x1="265.65" y1="542.7" x2="455" y2="542.7" stroke="#1a1a1a" stroke-width="1.5"/>
<line x1="263.35" y1="416.7" x2="266.4" y2="416.7" stroke="#1a1a1a" stroke-width="1"/>
<text x="263.6" y="420.6" font-size="8.6" text-anchor="end" textLength="10.2" lengthAdjust="spacingAndGlyphs" fill="#222">1.0</text>
<line x1="263.35" y1="440.6" x2="266.4" y2="440.6" stroke="#1a1a1a" stroke-width="1"/>
<text x="263.6" y="444.5" font-size="8.6" text-anchor="end" textLength="10.2" lengthAdjust="spacingAndGlyphs" fill="#222">0.9</text>
<line x1="263.35" y1="464.5" x2="266.4" y2="464.5" stroke="#1a1a1a" stroke-width="1"/>
<text x="263.6" y="468.4" font-size="8.6" text-anchor="end" textLength="10.2" lengthAdjust="spacingAndGlyphs" fill="#222">0.8</text>
<line x1="263.35" y1="488.4" x2="266.4" y2="488.4" stroke="#1a1a1a" stroke-width="1"/>
<text x="263.6" y="492.3" font-size="8.6" text-anchor="end" textLength="10.2" lengthAdjust="spacingAndGlyphs" fill="#222">0.7</text>
<line x1="263.35" y1="512.3" x2="266.4" y2="512.3" stroke="#1a1a1a" stroke-width="1"/>
<text x="263.6" y="516.2" font-size="8.6" text-anchor="end" textLength="10.2" lengthAdjust="spacingAndGlyphs" fill="#222">0.6</text>
<line x1="263.35" y1="536.2" x2="266.4" y2="536.2" stroke="#1a1a1a" stroke-width="1"/>
<text x="263.6" y="540.1" font-size="8.6" text-anchor="end" textLength="10.2" lengthAdjust="spacingAndGlyphs" fill="#222">0.5</text>
<line x1="275.6" y1="542.7" x2="275.6" y2="545.65" stroke="#1a1a1a" stroke-width="1"/>
<text x="275.6" y="554.6" font-size="8.6" text-anchor="middle" textLength="3.9" lengthAdjust="spacingAndGlyphs" fill="#222">0</text>
<line x1="286.86" y1="542.7" x2="286.86" y2="545.65" stroke="#1a1a1a" stroke-width="1"/>
<text x="286.86" y="554.6" font-size="8.6" text-anchor="middle" textLength="3.9" lengthAdjust="spacingAndGlyphs" fill="#222">2</text>
<line x1="298.12" y1="542.7" x2="298.12" y2="545.65" stroke="#1a1a1a" stroke-width="1"/>
<text x="298.12" y="554.6" font-size="8.6" text-anchor="middle" textLength="3.9" lengthAdjust="spacingAndGlyphs" fill="#222">4</text>
<line x1="309.38" y1="542.7" x2="309.38" y2="545.65" stroke="#1a1a1a" stroke-width="1"/>
<text x="309.38" y="554.6" font-size="8.6" text-anchor="middle" textLength="3.9" lengthAdjust="spacingAndGlyphs" fill="#222">6</text>
<line x1="320.64" y1="542.7" x2="320.64" y2="545.65" stroke="#1a1a1a" stroke-width="1"/>
<text x="320.64" y="554.6" font-size="8.6" text-anchor="middle" textLength="3.9" lengthAdjust="spacingAndGlyphs" fill="#222">8</text>
<line x1="331.9" y1="542.7" x2="331.9" y2="545.65" stroke="#1a1a1a" stroke-width="1"/>
<text x="331.9" y="554.6" font-size="8.6" text-anchor="middle" textLength="8.3" lengthAdjust="spacingAndGlyphs" fill="#222">10</text>
<line x1="343.16" y1="542.7" x2="343.16" y2="545.65" stroke="#1a1a1a" stroke-width="1"/>
<text x="343.16" y="554.6" font-size="8.6" text-anchor="middle" textLength="8.3" lengthAdjust="spacingAndGlyphs" fill="#222">12</text>
<line x1="354.42" y1="542.7" x2="354.42" y2="545.65" stroke="#1a1a1a" stroke-width="1"/>
<text x="354.42" y="554.6" font-size="8.6" text-anchor="middle" textLength="8.3" lengthAdjust="spacingAndGlyphs" fill="#222">14</text>
<line x1="365.68" y1="542.7" x2="365.68" y2="545.65" stroke="#1a1a1a" stroke-width="1"/>
<text x="365.68" y="554.6" font-size="8.6" text-anchor="middle" textLength="8.3" lengthAdjust="spacingAndGlyphs" fill="#222">16</text>
<line x1="376.94" y1="542.7" x2="376.94" y2="545.65" stroke="#1a1a1a" stroke-width="1"/>
<text x="376.94" y="554.6" font-size="8.6" text-anchor="middle" textLength="8.3" lengthAdjust="spacingAndGlyphs" fill="#222">18</text>
<line x1="388.2" y1="542.7" x2="388.2" y2="545.65" stroke="#1a1a1a" stroke-width="1"/>
<text x="388.2" y="554.6" font-size="8.6" text-anchor="middle" textLength="8.3" lengthAdjust="spacingAndGlyphs" fill="#222">20</text>
<line x1="399.46" y1="542.7" x2="399.46" y2="545.65" stroke="#1a1a1a" stroke-width="1"/>
<text x="399.46" y="554.6" font-size="8.6" text-anchor="middle" textLength="8.3" lengthAdjust="spacingAndGlyphs" fill="#222">22</text>
<line x1="410.72" y1="542.7" x2="410.72" y2="545.65" stroke="#1a1a1a" stroke-width="1"/>
<text x="410.72" y="554.6" font-size="8.6" text-anchor="middle" textLength="8.3" lengthAdjust="spacingAndGlyphs" fill="#222">24</text>
<line x1="421.98" y1="542.7" x2="421.98" y2="545.65" stroke="#1a1a1a" stroke-width="1"/>
<text x="421.98" y="554.6" font-size="8.6" text-anchor="middle" textLength="8.3" lengthAdjust="spacingAndGlyphs" fill="#222">26</text>
<line x1="433.24" y1="542.7" x2="433.24" y2="545.65" stroke="#1a1a1a" stroke-width="1"/>
<text x="433.24" y="554.6" font-size="8.6" text-anchor="middle" textLength="8.3" lengthAdjust="spacingAndGlyphs" fill="#222">28</text>
<line x1="444.5" y1="542.7" x2="444.5" y2="545.65" stroke="#1a1a1a" stroke-width="1"/>
<text x="444.5" y="554.6" font-size="8.6" text-anchor="middle" textLength="8.3" lengthAdjust="spacingAndGlyphs" fill="#222">30</text>
<text x="361.2" y="562.5" font-size="8.7" text-anchor="middle" textLength="86.5" lengthAdjust="spacingAndGlyphs" fill="#222">Overall survival in days</text>
<text transform="translate(251.1 477) rotate(-90)" x="0" y="0" font-size="8.7" text-anchor="middle" textLength="79.2" lengthAdjust="spacingAndGlyphs" fill="#222">Cumulative Survival</text>
<path d="M275.1 416.7 L286.52 416.7 L286.52 420.2 L297.94 420.2 L297.94 428.3 L309.36 428.3 L309.36 434.6 L320.78 434.6 L320.78 438.4 L332.2 438.4 L332.2 439.5 L343.62 439.5 L343.62 442 L355.04 442 L355.04 445.3 L366.46 445.3 L366.46 445.3 L377.88 445.3 L377.88 446.6 L389.3 446.6 L389.3 447.8 L400.72 447.8 L400.72 447.8 L412.14 447.8 L412.14 448.7 L423.56 448.7 L423.56 449.4 L434.98 449.4 L434.98 450.2 L446.4 450.2 L446.4 451.2 L446.4 451.2" fill="none" stroke="#336d99" stroke-width="1.4" stroke-linejoin="round"/>
<path d="M275.1 416.7 L286.52 416.7 L286.52 416.7 L297.94 416.7 L297.94 416.7 L309.36 416.7 L309.36 416.7 L320.78 416.7 L320.78 456.3 L332.2 456.3 L332.2 476.1 L343.62 476.1 L343.62 496.2 L355.04 496.2 L355.04 516.3 L366.46 516.3 L366.46 516.3 L377.88 516.3 L377.88 516.3 L389.3 516.3 L389.3 516.3 L400.72 516.3 L400.72 516.3 L412.14 516.3 L412.14 516.3 L423.56 516.3 L423.56 516.3 L434.98 516.3 L434.98 516.3 L446.4 516.3 L446.4 516.3 L446.4 516.3" fill="none" stroke="#cf3850" stroke-width="1.4" stroke-linejoin="round"/>
<text x="424.2" y="418" font-size="7.0" textLength="21" lengthAdjust="spacingAndGlyphs" fill="#222">P=0.01</text>
<text x="406.2" y="459.8" font-size="7.8" textLength="33.5" lengthAdjust="spacingAndGlyphs" fill="#222">APTT &lt; 40s</text>
<text x="410.4" y="525.1" font-size="7.8" textLength="33.7" lengthAdjust="spacingAndGlyphs" fill="#222">APTT ≥ 40s</text>
<text x="11.5" y="592.3" font-weight="bold" font-size="13.4" fill="#000" style="stroke:#000;stroke-width:0.45px">G</text>
<line x1="36.4" y1="594.8" x2="36.4" y2="734.45" stroke="#1a1a1a" stroke-width="1.5"/>
<line x1="35.65" y1="733.7" x2="231.4" y2="733.7" stroke="#1a1a1a" stroke-width="1.5"/>
<line x1="33.35" y1="602.5" x2="36.4" y2="602.5" stroke="#1a1a1a" stroke-width="1"/>
<text x="34" y="606.4" font-size="8.6" text-anchor="end" textLength="14.8" lengthAdjust="spacingAndGlyphs" fill="#222">1.00</text>
<line x1="33.35" y1="627.4" x2="36.4" y2="627.4" stroke="#1a1a1a" stroke-width="1"/>
<text x="34" y="631.3" font-size="8.6" text-anchor="end" textLength="14.8" lengthAdjust="spacingAndGlyphs" fill="#222">0.95</text>
<line x1="33.35" y1="652.3" x2="36.4" y2="652.3" stroke="#1a1a1a" stroke-width="1"/>
<text x="34" y="656.2" font-size="8.6" text-anchor="end" textLength="14.8" lengthAdjust="spacingAndGlyphs" fill="#222">0.90</text>
<line x1="33.35" y1="677.2" x2="36.4" y2="677.2" stroke="#1a1a1a" stroke-width="1"/>
<text x="34" y="681.1" font-size="8.6" text-anchor="end" textLength="14.8" lengthAdjust="spacingAndGlyphs" fill="#222">0.85</text>
<line x1="33.35" y1="702.1" x2="36.4" y2="702.1" stroke="#1a1a1a" stroke-width="1"/>
<text x="34" y="706" font-size="8.6" text-anchor="end" textLength="14.8" lengthAdjust="spacingAndGlyphs" fill="#222">0.80</text>
<line x1="33.35" y1="727" x2="36.4" y2="727" stroke="#1a1a1a" stroke-width="1"/>
<text x="34" y="730.9" font-size="8.6" text-anchor="end" textLength="14.8" lengthAdjust="spacingAndGlyphs" fill="#222">0.75</text>
<line x1="45.8" y1="733.7" x2="45.8" y2="736.65" stroke="#1a1a1a" stroke-width="1"/>
<text x="45.8" y="745.9" font-size="8.6" text-anchor="middle" textLength="3.9" lengthAdjust="spacingAndGlyphs" fill="#222">0</text>
<line x1="57.57" y1="733.7" x2="57.57" y2="736.65" stroke="#1a1a1a" stroke-width="1"/>
<text x="57.57" y="745.9" font-size="8.6" text-anchor="middle" textLength="3.9" lengthAdjust="spacingAndGlyphs" fill="#222">2</text>
<line x1="69.33" y1="733.7" x2="69.33" y2="736.65" stroke="#1a1a1a" stroke-width="1"/>
<text x="69.33" y="745.9" font-size="8.6" text-anchor="middle" textLength="3.9" lengthAdjust="spacingAndGlyphs" fill="#222">4</text>
<line x1="81.1" y1="733.7" x2="81.1" y2="736.65" stroke="#1a1a1a" stroke-width="1"/>
<text x="81.1" y="745.9" font-size="8.6" text-anchor="middle" textLength="3.9" lengthAdjust="spacingAndGlyphs" fill="#222">6</text>
<line x1="92.86" y1="733.7" x2="92.86" y2="736.65" stroke="#1a1a1a" stroke-width="1"/>
<text x="92.86" y="745.9" font-size="8.6" text-anchor="middle" textLength="3.9" lengthAdjust="spacingAndGlyphs" fill="#222">8</text>
<line x1="104.63" y1="733.7" x2="104.63" y2="736.65" stroke="#1a1a1a" stroke-width="1"/>
<text x="104.63" y="745.9" font-size="8.6" text-anchor="middle" textLength="8.3" lengthAdjust="spacingAndGlyphs" fill="#222">10</text>
<line x1="116.4" y1="733.7" x2="116.4" y2="736.65" stroke="#1a1a1a" stroke-width="1"/>
<text x="116.4" y="745.9" font-size="8.6" text-anchor="middle" textLength="8.3" lengthAdjust="spacingAndGlyphs" fill="#222">12</text>
<line x1="128.16" y1="733.7" x2="128.16" y2="736.65" stroke="#1a1a1a" stroke-width="1"/>
<text x="128.16" y="745.9" font-size="8.6" text-anchor="middle" textLength="8.3" lengthAdjust="spacingAndGlyphs" fill="#222">14</text>
<line x1="139.93" y1="733.7" x2="139.93" y2="736.65" stroke="#1a1a1a" stroke-width="1"/>
<text x="139.93" y="745.9" font-size="8.6" text-anchor="middle" textLength="8.3" lengthAdjust="spacingAndGlyphs" fill="#222">16</text>
<line x1="151.69" y1="733.7" x2="151.69" y2="736.65" stroke="#1a1a1a" stroke-width="1"/>
<text x="151.69" y="745.9" font-size="8.6" text-anchor="middle" textLength="8.3" lengthAdjust="spacingAndGlyphs" fill="#222">18</text>
<line x1="163.46" y1="733.7" x2="163.46" y2="736.65" stroke="#1a1a1a" stroke-width="1"/>
<text x="163.46" y="745.9" font-size="8.6" text-anchor="middle" textLength="8.3" lengthAdjust="spacingAndGlyphs" fill="#222">20</text>
<line x1="175.23" y1="733.7" x2="175.23" y2="736.65" stroke="#1a1a1a" stroke-width="1"/>
<text x="175.23" y="745.9" font-size="8.6" text-anchor="middle" textLength="8.3" lengthAdjust="spacingAndGlyphs" fill="#222">22</text>
<line x1="186.99" y1="733.7" x2="186.99" y2="736.65" stroke="#1a1a1a" stroke-width="1"/>
<text x="186.99" y="745.9" font-size="8.6" text-anchor="middle" textLength="8.3" lengthAdjust="spacingAndGlyphs" fill="#222">24</text>
<line x1="198.76" y1="733.7" x2="198.76" y2="736.65" stroke="#1a1a1a" stroke-width="1"/>
<text x="198.76" y="745.9" font-size="8.6" text-anchor="middle" textLength="8.3" lengthAdjust="spacingAndGlyphs" fill="#222">26</text>
<line x1="210.52" y1="733.7" x2="210.52" y2="736.65" stroke="#1a1a1a" stroke-width="1"/>
<text x="210.52" y="745.9" font-size="8.6" text-anchor="middle" textLength="8.3" lengthAdjust="spacingAndGlyphs" fill="#222">28</text>
<line x1="222.29" y1="733.7" x2="222.29" y2="736.65" stroke="#1a1a1a" stroke-width="1"/>
<text x="222.29" y="745.9" font-size="8.6" text-anchor="middle" textLength="8.3" lengthAdjust="spacingAndGlyphs" fill="#222">30</text>
<text x="134.5" y="754.6" font-size="8.7" text-anchor="middle" textLength="86.5" lengthAdjust="spacingAndGlyphs" fill="#222">Overall survival in days</text>
<text transform="translate(17.8 664.6) rotate(-90)" x="0" y="0" font-size="8.7" text-anchor="middle" textLength="78.2" lengthAdjust="spacingAndGlyphs" fill="#222">Cumulative Survival</text>
<path d="M45.9 602.5 L57.68 602.5 L57.68 611 L69.47 611 L69.47 635.5 L81.25 635.5 L81.25 657.2 L93.04 657.2 L93.04 672.6 L104.82 672.6 L104.82 675.7 L116.6 675.7 L116.6 691.2 L128.39 691.2 L128.39 700 L140.17 700 L140.17 700 L151.96 700 L151.96 700 L163.74 700 L163.74 700 L175.52 700 L175.52 700 L187.31 700 L187.31 700 L199.09 700 L199.09 700 L210.88 700 L210.88 703.75 L222.66 703.75 L222.66 709 L222.66 709" fill="none" stroke="#336d99" stroke-width="1.4" stroke-linejoin="round"/>
<path d="M45.9 602.5 L57.68 602.5 L57.68 605.2 L69.47 605.2 L69.47 611.2 L81.25 611.2 L81.25 618.2 L93.04 618.2 L93.04 624.2 L104.82 624.2 L104.82 624.2 L116.6 624.2 L116.6 627.3 L128.39 627.3 L128.39 630.7 L140.17 630.7 L140.17 630.7 L151.96 630.7 L151.96 636.5 L163.74 636.5 L163.74 639.8 L175.52 639.8 L175.52 639.8 L187.31 639.8 L187.31 643.2 L199.09 643.2 L199.09 646.3 L210.88 646.3 L210.88 646.3 L222.66 646.3 L222.66 646.3 L222.66 646.3" fill="none" stroke="#cf3850" stroke-width="1.4" stroke-linejoin="round"/>
<text x="209.6" y="601.3" font-size="7.0" textLength="23.9" lengthAdjust="spacingAndGlyphs" fill="#222">P=0.001</text>
<text x="163.5" y="654.1" font-size="7.8" textLength="60" lengthAdjust="spacingAndGlyphs" fill="#222">Fibrinogen &lt; 1.5g/L</text>
<text x="160.6" y="711.2" font-size="7.8" textLength="59.8" lengthAdjust="spacingAndGlyphs" fill="#222">Fibrinogen &lt; 1.5g/L</text>
<text x="242.7" y="591.9" font-weight="bold" font-size="13.4" fill="#000" style="stroke:#000;stroke-width:0.45px">H</text>
<line x1="267.7" y1="594.8" x2="267.7" y2="734.35" stroke="#1a1a1a" stroke-width="1.5"/>
<line x1="266.95" y1="733.6" x2="463.5" y2="733.6" stroke="#1a1a1a" stroke-width="1.5"/>
<line x1="264.65" y1="602.5" x2="267.7" y2="602.5" stroke="#1a1a1a" stroke-width="1"/>
<text x="265.2" y="606.4" font-size="8.6" text-anchor="end" textLength="14.8" lengthAdjust="spacingAndGlyphs" fill="#222">1.00</text>
<line x1="264.65" y1="623.3" x2="267.7" y2="623.3" stroke="#1a1a1a" stroke-width="1"/>
<text x="265.2" y="627.2" font-size="8.6" text-anchor="end" textLength="14.8" lengthAdjust="spacingAndGlyphs" fill="#222">0.95</text>
<line x1="264.65" y1="644.1" x2="267.7" y2="644.1" stroke="#1a1a1a" stroke-width="1"/>
<text x="265.2" y="648" font-size="8.6" text-anchor="end" textLength="14.8" lengthAdjust="spacingAndGlyphs" fill="#222">0.90</text>
<line x1="264.65" y1="664.9" x2="267.7" y2="664.9" stroke="#1a1a1a" stroke-width="1"/>
<text x="265.2" y="668.8" font-size="8.6" text-anchor="end" textLength="14.8" lengthAdjust="spacingAndGlyphs" fill="#222">0.85</text>
<line x1="264.65" y1="685.7" x2="267.7" y2="685.7" stroke="#1a1a1a" stroke-width="1"/>
<text x="265.2" y="689.6" font-size="8.6" text-anchor="end" textLength="14.8" lengthAdjust="spacingAndGlyphs" fill="#222">0.80</text>
<line x1="264.65" y1="706.5" x2="267.7" y2="706.5" stroke="#1a1a1a" stroke-width="1"/>
<text x="265.2" y="710.4" font-size="8.6" text-anchor="end" textLength="14.8" lengthAdjust="spacingAndGlyphs" fill="#222">0.75</text>
<line x1="264.65" y1="727.3" x2="267.7" y2="727.3" stroke="#1a1a1a" stroke-width="1"/>
<text x="265.2" y="731.2" font-size="8.6" text-anchor="end" textLength="14.8" lengthAdjust="spacingAndGlyphs" fill="#222">0.70</text>
<line x1="277.3" y1="733.6" x2="277.3" y2="736.55" stroke="#1a1a1a" stroke-width="1"/>
<text x="277.3" y="745.9" font-size="8.6" text-anchor="middle" textLength="3.9" lengthAdjust="spacingAndGlyphs" fill="#222">0</text>
<line x1="289.03" y1="733.6" x2="289.03" y2="736.55" stroke="#1a1a1a" stroke-width="1"/>
<text x="289.03" y="745.9" font-size="8.6" text-anchor="middle" textLength="3.9" lengthAdjust="spacingAndGlyphs" fill="#222">2</text>
<line x1="300.75" y1="733.6" x2="300.75" y2="736.55" stroke="#1a1a1a" stroke-width="1"/>
<text x="300.75" y="745.9" font-size="8.6" text-anchor="middle" textLength="3.9" lengthAdjust="spacingAndGlyphs" fill="#222">4</text>
<line x1="312.48" y1="733.6" x2="312.48" y2="736.55" stroke="#1a1a1a" stroke-width="1"/>
<text x="312.48" y="745.9" font-size="8.6" text-anchor="middle" textLength="3.9" lengthAdjust="spacingAndGlyphs" fill="#222">6</text>
<line x1="324.2" y1="733.6" x2="324.2" y2="736.55" stroke="#1a1a1a" stroke-width="1"/>
<text x="324.2" y="745.9" font-size="8.6" text-anchor="middle" textLength="3.9" lengthAdjust="spacingAndGlyphs" fill="#222">8</text>
<line x1="335.93" y1="733.6" x2="335.93" y2="736.55" stroke="#1a1a1a" stroke-width="1"/>
<text x="335.93" y="745.9" font-size="8.6" text-anchor="middle" textLength="8.3" lengthAdjust="spacingAndGlyphs" fill="#222">10</text>
<line x1="347.66" y1="733.6" x2="347.66" y2="736.55" stroke="#1a1a1a" stroke-width="1"/>
<text x="347.66" y="745.9" font-size="8.6" text-anchor="middle" textLength="8.3" lengthAdjust="spacingAndGlyphs" fill="#222">12</text>
<line x1="359.38" y1="733.6" x2="359.38" y2="736.55" stroke="#1a1a1a" stroke-width="1"/>
<text x="359.38" y="745.9" font-size="8.6" text-anchor="middle" textLength="8.3" lengthAdjust="spacingAndGlyphs" fill="#222">14</text>
<line x1="371.11" y1="733.6" x2="371.11" y2="736.55" stroke="#1a1a1a" stroke-width="1"/>
<text x="371.11" y="745.9" font-size="8.6" text-anchor="middle" textLength="8.3" lengthAdjust="spacingAndGlyphs" fill="#222">16</text>
<line x1="382.83" y1="733.6" x2="382.83" y2="736.55" stroke="#1a1a1a" stroke-width="1"/>
<text x="382.83" y="745.9" font-size="8.6" text-anchor="middle" textLength="8.3" lengthAdjust="spacingAndGlyphs" fill="#222">18</text>
<line x1="394.56" y1="733.6" x2="394.56" y2="736.55" stroke="#1a1a1a" stroke-width="1"/>
<text x="394.56" y="745.9" font-size="8.6" text-anchor="middle" textLength="8.3" lengthAdjust="spacingAndGlyphs" fill="#222">20</text>
<line x1="406.29" y1="733.6" x2="406.29" y2="736.55" stroke="#1a1a1a" stroke-width="1"/>
<text x="406.29" y="745.9" font-size="8.6" text-anchor="middle" textLength="8.3" lengthAdjust="spacingAndGlyphs" fill="#222">22</text>
<line x1="418.01" y1="733.6" x2="418.01" y2="736.55" stroke="#1a1a1a" stroke-width="1"/>
<text x="418.01" y="745.9" font-size="8.6" text-anchor="middle" textLength="8.3" lengthAdjust="spacingAndGlyphs" fill="#222">24</text>
<line x1="429.74" y1="733.6" x2="429.74" y2="736.55" stroke="#1a1a1a" stroke-width="1"/>
<text x="429.74" y="745.9" font-size="8.6" text-anchor="middle" textLength="8.3" lengthAdjust="spacingAndGlyphs" fill="#222">26</text>
<line x1="441.46" y1="733.6" x2="441.46" y2="736.55" stroke="#1a1a1a" stroke-width="1"/>
<text x="441.46" y="745.9" font-size="8.6" text-anchor="middle" textLength="8.3" lengthAdjust="spacingAndGlyphs" fill="#222">28</text>
<line x1="453.19" y1="733.6" x2="453.19" y2="736.55" stroke="#1a1a1a" stroke-width="1"/>
<text x="453.19" y="745.9" font-size="8.6" text-anchor="middle" textLength="8.3" lengthAdjust="spacingAndGlyphs" fill="#222">30</text>
<text x="366.35" y="755" font-size="8.7" text-anchor="middle" textLength="86.5" lengthAdjust="spacingAndGlyphs" fill="#222">Overall survival in days</text>
<text transform="translate(249 664.6) rotate(-90)" x="0" y="0" font-size="8.7" text-anchor="middle" textLength="78.2" lengthAdjust="spacingAndGlyphs" fill="#222">Cumulative Survival</text>
<path d="M277 601.9 L288.77 601.9 L288.77 607.7 L300.54 607.7 L300.54 617.3 L312.31 617.3 L312.31 626.5 L324.08 626.5 L324.08 634.8 L335.85 634.8 L335.85 638.3 L347.62 638.3 L347.62 641.7 L359.39 641.7 L359.39 646.3 L371.16 646.3 L371.16 646.3 L382.93 646.3 L382.93 648.1 L394.7 648.1 L394.7 649.5 L406.47 649.5 L406.47 649.5 L418.24 649.5 L418.24 651.1 L430.01 651.1 L430.01 651.1 L441.78 651.1 L441.78 651.1 L453.55 651.1 L453.55 652.1 L453.55 652.1" fill="none" stroke="#336d99" stroke-width="1.4" stroke-linejoin="round"/>
<path d="M277 601.9 L288.77 601.9 L288.77 613.5 L300.54 613.5 L300.54 636.9 L312.31 636.9 L312.31 654.3 L324.08 654.3 L324.08 660.5 L335.85 660.5 L335.85 666.1 L347.62 666.1 L347.62 684.1 L359.39 684.1 L359.39 694.8 L371.16 694.8 L371.16 694.8 L382.93 694.8 L382.93 701.2 L394.7 701.2 L394.7 701.2 L406.47 701.2 L406.47 701.2 L418.24 701.2 L418.24 707.3 L430.01 707.3 L430.01 713.2 L441.78 713.2 L441.78 718.7 L453.55 718.7 L453.55 722.2 L453.55 722.2" fill="none" stroke="#cf3850" stroke-width="1.4" stroke-linejoin="round"/>
<text x="439.7" y="602.2" font-size="7.0" textLength="24.5" lengthAdjust="spacingAndGlyphs" fill="#222">P&lt;0.001</text>
<text x="356" y="659.9" font-size="7.8" textLength="96.7" lengthAdjust="spacingAndGlyphs" fill="#222">ATRA given within first 24 hours</text>
<text x="348.8" y="726.5" font-size="7.8" textLength="109.1" lengthAdjust="spacingAndGlyphs" fill="#222">ATRA not given within first 24 hours</text>
<rect x="0.75" y="0.75" width="518.5" height="764.5" fill="none" stroke="#000" stroke-width="1.5"/>
</svg></div>
</body></html>
